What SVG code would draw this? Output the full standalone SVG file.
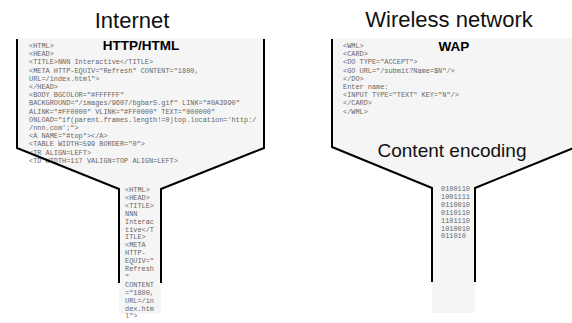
<svg xmlns="http://www.w3.org/2000/svg" width="572" height="323" viewBox="0 0 572 323">
<style>
.fill{fill:#f5f5f5;stroke:none}
.edge{fill:none;stroke:#000;stroke-width:2;stroke-linejoin:miter}
.title{font-family:"Liberation Sans",Arial,sans-serif;font-size:22px;fill:#111;text-anchor:middle}
.proto{font-family:"Liberation Sans",Arial,sans-serif;font-size:13.5px;font-weight:bold;fill:#000;text-anchor:middle}
.enc{font-family:"Liberation Sans",Arial,sans-serif;font-size:19px;fill:#111;text-anchor:middle}
.code{font-family:"Liberation Mono","Courier New",monospace;font-size:6.9px;fill:#666;white-space:pre}
</style>
<rect width="572" height="323" fill="#fff"/>
<g id="internet">
<polygon class="fill" points="17,38 264,38 264,148 161,189 161,314 119,314 119,189 17,148"/>
<text class="title" x="132" y="28">Internet</text>
<text class="proto" x="141" y="50">HTTP/HTML</text>
<text class="code" x="29">
<tspan x="29" y="48">&lt;HTML&gt;</tspan>
<tspan x="29" y="56.2">&lt;HEAD&gt;</tspan>
<tspan x="29" y="64.4">&lt;TITLE&gt;NNN Interactive&lt;/TITLE&gt;</tspan>
<tspan x="29" y="72.6">&lt;META HTTP-EQUIV="Refresh" CONTENT="1800,</tspan>
<tspan x="29" y="80.8">URL=/index.html"&gt;</tspan>
<tspan x="29" y="89">&lt;/HEAD&gt;</tspan>
<tspan x="29" y="97.2">&lt;BODY BGCOLOR="#FFFFFF"</tspan>
<tspan x="29" y="105.4">BACKGROUND="/images/9607/bgbar5.gif" LINK="#0A3990"</tspan>
<tspan x="29" y="113.6">ALINK="#FF0000" VLINK="#FF0000" TEXT="000000"</tspan>
<tspan x="29" y="121.8">ONLOAD="if(parent.frames.length!=0)top.location='http:/</tspan>
<tspan x="29" y="130">/nnn.com';"&gt;</tspan>
<tspan x="29" y="138.2">&lt;A NAME="#top"&gt;&lt;/A&gt;</tspan>
<tspan x="29" y="146.4">&lt;TABLE WIDTH=599 BORDER="0"&gt;</tspan>
<tspan x="29" y="154.6">&lt;TR ALIGN=LEFT&gt;</tspan>
<tspan x="29" y="162.8">&lt;TD WIDTH=117 VALIGN=TOP ALIGN=LEFT&gt;</tspan>
</text>
<text class="code">
<tspan x="125" y="192">&lt;HTML&gt;</tspan>
<tspan x="125" y="199.9">&lt;HEAD&gt;</tspan>
<tspan x="125" y="207.8">&lt;TITLE&gt;</tspan>
<tspan x="125" y="215.7">NNN</tspan>
<tspan x="125" y="223.6">Interac</tspan>
<tspan x="125" y="231.5">tive&lt;/T</tspan>
<tspan x="125" y="239.4">ITLE&gt;</tspan>
<tspan x="125" y="247.3">&lt;META</tspan>
<tspan x="125" y="255.2">HTTP-</tspan>
<tspan x="125" y="263.1">EQUIV="</tspan>
<tspan x="125" y="271">Refresh</tspan>
<tspan x="125" y="278.9">"</tspan>
<tspan x="125" y="286.8">CONTENT</tspan>
<tspan x="125" y="294.7">="1800,</tspan>
<tspan x="125" y="302.6">URL=/in</tspan>
<tspan x="125" y="310.5">dex.htm</tspan>
<tspan x="125" y="318.2">l"&gt;</tspan>
</text>
<polyline class="edge" points="17,39 17,148 119,189 119,283"/>
<polyline class="edge" points="264,39 264,148 161,189 161,283"/>
</g>
<g id="wireless">
<polygon class="fill" points="332,38 576,38 576,147 475,188 475,313 432,313 432,188 332,147"/>
<text class="title" x="449" y="27">Wireless network</text>
<text class="proto" x="454" y="51">WAP</text>
<text class="code">
<tspan x="343" y="48">&lt;WML&gt;</tspan>
<tspan x="343" y="56.2">&lt;CARD&gt;</tspan>
<tspan x="343" y="64.4">&lt;DO TYPE="ACCEPT"&gt;</tspan>
<tspan x="343" y="72.6">&lt;GO URL="/submit?Name=$N"/&gt;</tspan>
<tspan x="343" y="80.8">&lt;/DO&gt;</tspan>
<tspan x="343" y="89">Enter name:</tspan>
<tspan x="343" y="97.2">&lt;INPUT TYPE="TEXT" KEY="N"/&gt;</tspan>
<tspan x="343" y="105.4">&lt;/CARD&gt;</tspan>
<tspan x="343" y="113.6">&lt;/WML&gt;</tspan>
</text>
<text class="enc" x="452" y="157">Content encoding</text>
<text class="code">
<tspan x="441" y="191">0100110</tspan>
<tspan x="441" y="198.9">1001111</tspan>
<tspan x="441" y="206.8">0110010</tspan>
<tspan x="441" y="214.7">0110110</tspan>
<tspan x="441" y="222.6">1101110</tspan>
<tspan x="441" y="230.5">1010010</tspan>
<tspan x="441" y="238.4">011010</tspan>
</text>
<polyline class="edge" points="332,39 332,147 432,188 432,282"/>
<polyline class="edge" points="576,147 475,188 475,282"/>
</g>
</svg>
